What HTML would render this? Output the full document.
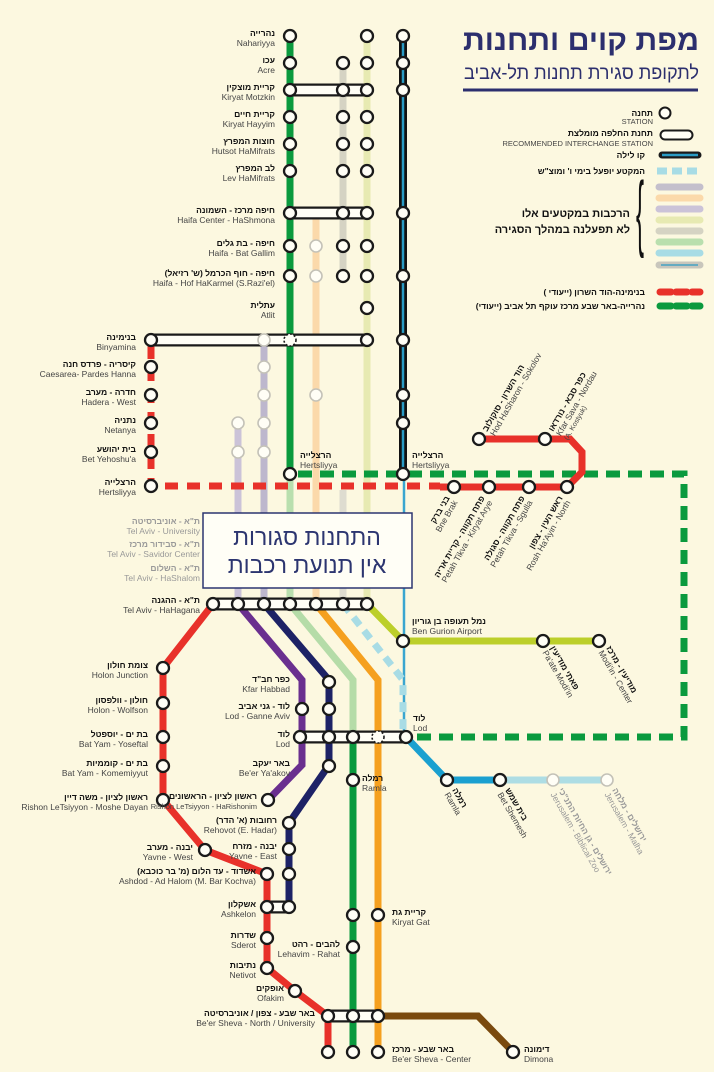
<!DOCTYPE html>
<html><head><meta charset="utf-8"><style>
html,body{margin:0;padding:0;background:#fcf8e0;}
svg{display:block;font-family:"Liberation Sans","DejaVu Sans",sans-serif;}
.h{font-size:8.5px;font-weight:bold;fill:#111;}
.e{font-size:8.5px;fill:#444;}
.g{fill:#999;}
.gh{font-size:8.5px;font-weight:bold;fill:#999;}
</style></head><body>
<svg width="714" height="1072" viewBox="0 0 714 1072">
<rect width="714" height="1072" fill="#fcf8e0"/>
<g fill="none" stroke-linecap="butt">
<path d="M238,423 V604" stroke="#cbc3d8" stroke-width="7"/>
<path d="M264,340 V604" stroke="#bdb7cd" stroke-width="7"/>
<path d="M316,213 V604" stroke="#fbd9aa" stroke-width="7"/>
<path d="M343,63 V276" stroke="#d5d3c3" stroke-width="7"/>
<path d="M343,490 V604" stroke="#dedcd0" stroke-width="7"/>
<path d="M367,36 V604" stroke="#e7eab2" stroke-width="7"/>
<path d="M290,474 V604" stroke="#b9dfae" stroke-width="7"/>
<path d="M290,36 V474" stroke="#0a9a3e" stroke-width="7"/>
<path d="M403,36 V474" stroke="#111" stroke-width="8"/>
<path d="M403,36 V474" stroke="#2a9bc4" stroke-width="2.5"/>
<path d="M404,474 V737" stroke="#3aa6d0" stroke-width="2.5"/>
<path d="M298,474 H684 V737 H412" stroke="#0a9a3e" stroke-width="7" stroke-dasharray="14 8"/>
<path d="M151,346 V486 H440" stroke="#e8312a" stroke-width="7" stroke-dasharray="13 9"/>
<path d="M440,487 H567 L582,472 V452 L570,439 H479" stroke="#e8312a" stroke-width="7"/>
<path d="M213,604 L163,668 V800 L205,850 L267,874 V968 L295,991 L328,1016 V1052" stroke="#e8312a" stroke-width="7"/>
<path d="M238,604 L302,680 V765 L268,800" stroke="#6a2f8f" stroke-width="7"/>
<path d="M264,604 L329,680 V765 L289,823 V907" stroke="#1d2266" stroke-width="7"/>
<path d="M290,604 L353,680 V737" stroke="#b5dca8" stroke-width="7"/>
<path d="M353,737 V1052" stroke="#0a9a3e" stroke-width="7"/>
<path d="M316,604 L378,680 V1052" stroke="#f5a01f" stroke-width="7"/>
<path d="M343,604 L403,680 V737" stroke="#a8dce5" stroke-width="7" stroke-dasharray="10 7"/>
<path d="M367,604 L403,641 H599" stroke="#bccf2a" stroke-width="7"/>
<path d="M406,737 L447,780 H500" stroke="#1aa0d0" stroke-width="7"/>
<path d="M500,780 H607" stroke="#addde4" stroke-width="7"/>
<path d="M378,1016 H478 L513,1052" stroke="#7a4a0e" stroke-width="7"/>
<g stroke-linecap="round">
<path d="M290,90 H367 M290,213 H367 M151,340 H367 M213,604 H367 M300,737 H406 M267,907 H289 M328,1016 H378" stroke="#1a1a1a" stroke-width="13"/>
<path d="M290,90 H367 M290,213 H367 M151,340 H367 M213,604 H367 M300,737 H406 M267,907 H289 M328,1016 H378" stroke="#fffef6" stroke-width="8.5"/>
</g>
</g>
<g fill="#fffef6" stroke="#1a1a1a" stroke-width="2.3">
<circle cx="290" cy="36" r="6"/><circle cx="367" cy="36" r="6"/><circle cx="403" cy="36" r="6"/>
<circle cx="290" cy="63" r="6"/><circle cx="343" cy="63" r="6"/><circle cx="367" cy="63" r="6"/><circle cx="403" cy="63" r="6"/>
<circle cx="403" cy="90" r="6"/>
<circle cx="290" cy="117" r="6"/><circle cx="343" cy="117" r="6"/><circle cx="367" cy="117" r="6"/>
<circle cx="290" cy="144" r="6"/><circle cx="343" cy="144" r="6"/><circle cx="367" cy="144" r="6"/>
<circle cx="290" cy="171" r="6"/><circle cx="343" cy="171" r="6"/><circle cx="367" cy="171" r="6"/>
<circle cx="403" cy="213" r="6"/>
<circle cx="290" cy="246" r="6"/><circle cx="343" cy="246" r="6"/><circle cx="367" cy="246" r="6"/>
<circle cx="290" cy="276" r="6"/><circle cx="343" cy="276" r="6"/><circle cx="367" cy="276" r="6"/><circle cx="403" cy="276" r="6"/>
<circle cx="367" cy="308" r="6"/><circle cx="403" cy="340" r="6"/>
<circle cx="151" cy="367" r="6"/><circle cx="151" cy="395" r="6"/><circle cx="151" cy="423" r="6"/><circle cx="151" cy="452" r="6"/><circle cx="151" cy="486" r="6"/>
<circle cx="403" cy="395" r="6"/><circle cx="403" cy="423" r="6"/>
<circle cx="290" cy="474" r="6"/><circle cx="403" cy="474" r="6"/>
<circle cx="454" cy="487" r="6"/><circle cx="489" cy="487" r="6"/><circle cx="529" cy="487" r="6"/><circle cx="567" cy="487" r="6"/>
<circle cx="479" cy="439" r="6"/><circle cx="545" cy="439" r="6"/>
<circle cx="403" cy="641" r="6"/><circle cx="543" cy="641" r="6"/><circle cx="599" cy="641" r="6"/>
<circle cx="163" cy="668" r="6"/><circle cx="163" cy="703" r="6"/><circle cx="163" cy="737" r="6"/><circle cx="163" cy="766" r="6"/><circle cx="163" cy="800" r="6"/>
<circle cx="329" cy="682" r="6"/><circle cx="302" cy="709" r="6"/><circle cx="329" cy="709" r="6"/>
<circle cx="329" cy="766" r="6"/><circle cx="268" cy="800" r="6"/><circle cx="289" cy="823" r="6"/>
<circle cx="205" cy="850" r="6"/><circle cx="289" cy="849" r="6"/><circle cx="267" cy="874" r="6"/><circle cx="289" cy="874" r="6"/>
<circle cx="267" cy="938" r="6"/><circle cx="267" cy="968" r="6"/><circle cx="295" cy="991" r="6"/>
<circle cx="353" cy="780" r="6"/><circle cx="447" cy="780" r="6"/><circle cx="500" cy="780" r="6"/>
<circle cx="353" cy="915" r="6"/><circle cx="378" cy="915" r="6"/><circle cx="353" cy="947" r="6"/>
<circle cx="328" cy="1052" r="6"/><circle cx="353" cy="1052" r="6"/><circle cx="378" cy="1052" r="6"/><circle cx="513" cy="1052" r="6"/>
<circle cx="290" cy="90" r="6"/><circle cx="343" cy="90" r="6"/><circle cx="367" cy="90" r="6"/>
<circle cx="290" cy="213" r="6"/><circle cx="343" cy="213" r="6"/><circle cx="367" cy="213" r="6"/>
<circle cx="151" cy="340" r="6"/><circle cx="367" cy="340" r="6"/>
<circle cx="213" cy="604" r="6"/><circle cx="238" cy="604" r="6"/><circle cx="264" cy="604" r="6"/><circle cx="290" cy="604" r="6"/><circle cx="316" cy="604" r="6"/><circle cx="343" cy="604" r="6"/><circle cx="367" cy="604" r="6"/>
<circle cx="300" cy="737" r="6"/><circle cx="329" cy="737" r="6"/><circle cx="353" cy="737" r="6"/><circle cx="406" cy="737" r="6"/>
<circle cx="267" cy="907" r="6"/><circle cx="289" cy="907" r="6"/>
<circle cx="328" cy="1016" r="6"/><circle cx="353" cy="1016" r="6"/><circle cx="378" cy="1016" r="6"/>
</g>
<g fill="#fffef6" stroke="#1a1a1a" stroke-width="1.6" stroke-dasharray="2 2">
<circle cx="290" cy="340" r="6"/><circle cx="378" cy="737" r="6"/>
</g>
<g fill="#fffef6" stroke="#c4c2b8" stroke-width="1.6">
<circle cx="316" cy="246" r="6"/><circle cx="316" cy="276" r="6"/><circle cx="316" cy="395" r="6"/>
<circle cx="264" cy="340" r="6"/><circle cx="264" cy="367" r="6"/><circle cx="264" cy="395" r="6"/><circle cx="264" cy="423" r="6"/><circle cx="264" cy="452" r="6"/>
<circle cx="238" cy="423" r="6"/><circle cx="238" cy="452" r="6"/>
<circle cx="553" cy="780" r="6"/><circle cx="607" cy="780" r="6"/>
</g>
<rect x="203" y="513" width="209" height="75" fill="#fffef6" stroke="#2c3570" stroke-width="1.5"/>
<text x="307" y="545" text-anchor="middle" font-size="23" fill="#2c3570">התחנות סגורות</text>
<text x="307" y="573" text-anchor="middle" font-size="23" fill="#2c3570">אין תנועת רכבות</text>
<g text-anchor="end">
<text class="h" x="275" y="36">נהרייה</text><text class="e" x="275" y="46">Nahariyya</text>
<text class="h" x="275" y="63">עכו</text><text class="e" x="275" y="73">Acre</text>
<text class="h" x="275" y="90">קריית מוצקין</text><text class="e" x="275" y="100">Kiryat Motzkin</text>
<text class="h" x="275" y="117">קריית חיים</text><text class="e" x="275" y="127">Kiryat Hayyim</text>
<text class="h" x="275" y="144">חוצות המפרץ</text><text class="e" x="275" y="154">Hutsot HaMifrats</text>
<text class="h" x="275" y="171">לב המפרץ</text><text class="e" x="275" y="181">Lev HaMifrats</text>
<text class="h" x="275" y="213">חיפה מרכז - השמונה</text><text class="e" x="275" y="223">Haifa Center - HaShmona</text>
<text class="h" x="275" y="246">חיפה - בת גלים</text><text class="e" x="275" y="256">Haifa - Bat Gallim</text>
<text class="h" x="275" y="276">חיפה - חוף הכרמל (ש' רזיאל)</text><text class="e" x="275" y="286">Haifa - Hof HaKarmel (S.Razi'el)</text>
<text class="h" x="275" y="308">עתלית</text><text class="e" x="275" y="318">Atlit</text>
<text class="h" x="136" y="340">בנימינה</text><text class="e" x="136" y="350">Binyamina</text>
<text class="h" x="136" y="367">קיסריה - פרדס חנה</text><text class="e" x="136" y="377">Caesarea- Pardes Hanna</text>
<text class="h" x="136" y="395">חדרה - מערב</text><text class="e" x="136" y="405">Hadera - West</text>
<text class="h" x="136" y="423">נתניה</text><text class="e" x="136" y="433">Netanya</text>
<text class="h" x="136" y="452">בית יהושע</text><text class="e" x="136" y="462">Bet Yehoshu'a</text>
<text class="h" x="136" y="485">הרצלייה</text><text class="e" x="136" y="495">Hertsliyya</text>
<text class="gh" x="200" y="524">ת"א - אוניברסיטה</text><text class="e g" x="200" y="534">Tel Aviv - University</text>
<text class="gh" x="200" y="547">ת"א - סבידור מרכז</text><text class="e g" x="200" y="557">Tel Aviv - Savidor Center</text>
<text class="gh" x="200" y="571">ת"א - השלום</text><text class="e g" x="200" y="581">Tel Aviv - HaShalom</text>
<text class="h" x="200" y="603">ת"א - ההגנה</text><text class="e" x="200" y="613">Tel Aviv - HaHagana</text>
<text class="h" x="148" y="668">צומת חולון</text><text class="e" x="148" y="678">Holon Junction</text>
<text class="h" x="148" y="703">חולון - וולפסון</text><text class="e" x="148" y="713">Holon - Wolfson</text>
<text class="h" x="148" y="737">בת ים - יוספטל</text><text class="e" x="148" y="747">Bat Yam - Yoseftal</text>
<text class="h" x="148" y="766">בת ים - קוממיות</text><text class="e" x="148" y="776">Bat Yam - Komemiyyut</text>
<text class="h" x="148" y="800">ראשון לציון - משה דיין</text><text class="e" x="148" y="810">Rishon LeTsiyyon - Moshe Dayan</text>
<text class="h" x="193" y="850">יבנה - מערב</text><text class="e" x="193" y="860">Yavne - West</text>
<text class="h" x="256" y="874">אשדוד - עד הלום (מ' בר כוכבא)</text><text class="e" x="256" y="884">Ashdod - Ad Halom (M. Bar Kochva)</text>
<text class="h" x="256" y="907">אשקלון</text><text class="e" x="256" y="917">Ashkelon</text>
<text class="h" x="256" y="938">שדרות</text><text class="e" x="256" y="948">Sderot</text>
<text class="h" x="256" y="968">נתיבות</text><text class="e" x="256" y="978">Netivot</text>
<text class="h" x="284" y="991">אופקים</text><text class="e" x="284" y="1001">Ofakim</text>
<text class="h" x="315" y="1016">באר שבע - צפון / אוניברסיטה</text><text class="e" x="315" y="1026">Be'er Sheva - North / University</text>
<text class="h" x="290" y="682">כפר חב"ד</text><text class="e" x="290" y="692">Kfar Habbad</text>
<text class="h" x="290" y="709">לוד - גני אביב</text><text class="e" x="290" y="719">Lod - Ganne Aviv</text>
<text class="h" x="290" y="737">לוד</text><text class="e" x="290" y="747">Lod</text>
<text class="h" x="290" y="766">באר יעקב</text><text class="e" x="290" y="776">Be'er Ya'akov</text>
<text class="h" x="257" y="799">ראשון לציון - הראשונים</text><text class="e" x="257" y="809" style="font-size:7.5px">Rishon LeTsiyyon - HaRishonim</text>
<text class="h" x="277" y="823">רחובות (א' הדר)</text><text class="e" x="277" y="833">Rehovot (E. Hadar)</text>
<text class="h" x="277" y="849">יבנה - מזרח</text><text class="e" x="277" y="859">Yavne - East</text>
<text class="h" x="340" y="947">להבים - רהט</text><text class="e" x="340" y="957">Lehavim - Rahat</text>
</g>
<g>
<text class="h" x="362" y="781">רמלה</text><text class="e" x="362" y="791">Ramla</text>
<text class="h" x="392" y="915">קריית גת</text><text class="e" x="392" y="925">Kiryat Gat</text>
<text class="h" x="392" y="1052">באר שבע - מרכז</text><text class="e" x="392" y="1062">Be'er Sheva - Center</text>
<text class="h" x="524" y="1052">דימונה</text><text class="e" x="524" y="1062">Dimona</text>
<text class="h" x="300" y="458">הרצלייה</text><text class="e" x="300" y="468">Hertsliyya</text>
<text class="h" x="412" y="458">הרצלייה</text><text class="e" x="412" y="468">Hertsliyya</text>
<text class="h" x="412" y="624">נמל תעופה בן גוריון</text><text class="e" x="412" y="634">Ben Gurion Airport</text>
<text class="h" x="413" y="721">לוד</text><text class="e" x="413" y="731">Lod</text>
</g>
<g text-anchor="end">
<g transform="translate(450,498) rotate(-60)"><text class="h" x="0" y="0">בני ברק</text><text class="e" x="0" y="9">Bne Brak</text></g>
<g transform="translate(485,498) rotate(-60)"><text class="h" x="0" y="0">פתח תקווה - קריית אריה</text><text class="e" x="0" y="9">Petah Tikva - Kiryat Arye</text></g>
<g transform="translate(525,498) rotate(-60)"><text class="h" x="0" y="0">פתח תקווה - סגולה</text><text class="e" x="0" y="9">Petah Tikva - Sgulla</text></g>
<g transform="translate(563,498) rotate(-60)"><text class="h" x="0" y="0">ראש העין - צפון</text><text class="e" x="0" y="9">Rosh Ha'Ayin - North</text></g>
</g>
<g>
<g transform="translate(487,432) rotate(-60)"><text class="h" x="0" y="0">הוד השרון - סוקולוב</text><text class="e" x="0" y="9">Hod HaSharon - Sokolov</text></g>
<g transform="translate(553,432) rotate(-60)"><text class="h" x="0" y="0">כפר סבא - נורדאו</text><text class="e" x="0" y="9">Kfar Sava - Nordau</text><text class="e" x="0" y="17" style="font-size:7px">(A. Kostyuk)</text></g>
<g transform="translate(550,648) rotate(60)"><text class="h" x="0" y="0">פאתי מודיעין</text><text class="e" x="0" y="9">Pa'ate Modi'in</text></g>
<g transform="translate(606,648) rotate(60)"><text class="h" x="0" y="0">מודיעין - מרכז</text><text class="e" x="0" y="9">Modi'in - Center</text></g>
<g transform="translate(452,790) rotate(60)"><text class="h" x="0" y="0">רמלה</text><text class="e" x="0" y="9">Ramla</text></g>
<g transform="translate(505,790) rotate(60)"><text class="h" x="0" y="0">בית שמש</text><text class="e" x="0" y="9">Bet Shemesh</text></g>
<g transform="translate(558,790) rotate(60)"><text class="gh" x="0" y="0">ירושלים - גן החיות התנ"כי</text><text class="e g" x="0" y="9">Jerusalem - Biblical Zoo</text></g>
<g transform="translate(612,790) rotate(60)"><text class="gh" x="0" y="0">ירושלים - מלחה</text><text class="e g" x="0" y="9">Jerusalem - Malha</text></g>
</g>
<text x="699" y="50" text-anchor="end" font-size="29" font-weight="bold" fill="#2c2f6e" textLength="236" lengthAdjust="spacingAndGlyphs">מפת קוים ותחנות</text>
<text x="699" y="79" text-anchor="end" font-size="19" fill="#2c2f6e" textLength="235" lengthAdjust="spacingAndGlyphs">לתקופת סגירת תחנות תל-אביב</text>
<line x1="463" y1="90" x2="698" y2="90" stroke="#2c2f6e" stroke-width="3"/>
<circle cx="665" cy="113" r="5.5" fill="#fffef6" stroke="#1a1a1a" stroke-width="2"/>
<text class="h" x="653" y="116" text-anchor="end">תחנה</text><text class="e" x="653" y="124" text-anchor="end" style="font-size:7.5px">STATION</text>
<path d="M665,135 H688" stroke="#1a1a1a" stroke-width="11" stroke-linecap="round"/>
<path d="M665,135 H688" stroke="#fffef6" stroke-width="7" stroke-linecap="round"/>
<text class="h" x="653" y="136" text-anchor="end">תחנת החלפה מומלצת</text><text class="e" x="653" y="146" text-anchor="end" style="font-size:7.5px">RECOMMENDED INTERCHANGE STATION</text>
<path d="M662,155 H698" stroke="#1a1a1a" stroke-width="7" stroke-linecap="round"/>
<path d="M662,155 H698" stroke="#2a9bc4" stroke-width="2.5"/>
<text class="h" x="645" y="158" text-anchor="end">קו לילה</text>
<path d="M657,171 H702" stroke="#a8dce5" stroke-width="7" stroke-dasharray="10 5"/>
<text class="h" x="645" y="174" text-anchor="end">המקטע יופעל בימי ו' ומוצ"ש</text>
<g stroke-width="7" stroke-linecap="round">
<path d="M659,187 H700" stroke="#c4bfcc"/><path d="M659,198 H700" stroke="#fbd9aa"/>
<path d="M659,209 H700" stroke="#cbc3d8"/><path d="M659,220 H700" stroke="#e7eab2"/>
<path d="M659,231 H700" stroke="#d5d3c3"/><path d="M659,242 H700" stroke="#b9dfae"/>
<path d="M659,253 H700" stroke="#a8dce5"/><path d="M659,265 H700" stroke="#c8c6bc"/>
</g>
<path d="M661,265 H698" stroke="#2a9bc4" stroke-width="1.2"/>
<text x="640" y="233" font-size="40" fill="#111" text-anchor="middle" transform="translate(640,226) scale(0.6,2.1) translate(-640,-226)">{</text>
<text class="h" x="630" y="217" text-anchor="end" style="font-size:11px">הרכבות במקטעים אלו</text>
<text class="h" x="630" y="233" text-anchor="end" style="font-size:11px">לא תפעלנה במהלך הסגירה</text>
<path d="M660,292 H700" stroke="#e8312a" stroke-width="7" stroke-dasharray="11 5" stroke-linecap="round"/>
<text class="h" x="645" y="295" text-anchor="end">בנימינה-הוד השרון (ייעודי )</text>
<path d="M660,306 H700" stroke="#0a9a3e" stroke-width="7" stroke-dasharray="11 5" stroke-linecap="round"/>
<text class="h" x="645" y="309" text-anchor="end">נהרייה-באר שבע מרכז עוקף תל אביב (ייעודי)</text>
</svg>
</body></html>
